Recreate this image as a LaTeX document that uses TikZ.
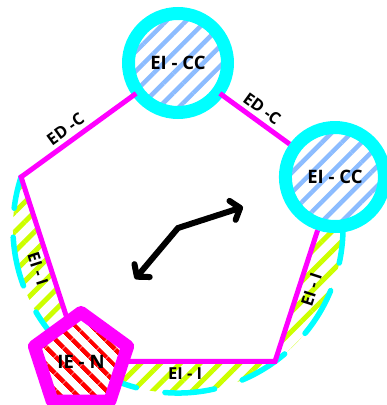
\documentclass[tikz,border=0pt]{standalone}
\usepackage{fontspec}
\setmainfont{Open Sans}
\usetikzlibrary{positioning,arrows.meta,shapes.geometric,patterns.meta}
\definecolor{ringcyan}{RGB}{0,255,255}
\definecolor{linkmagenta}{RGB}{255,0,255}
\definecolor{hatchblue}{RGB}{140,188,255}
\definecolor{hatchlime}{RGB}{204,255,0}
\tikzset{
    cluster/.style={
        circle,
        draw=ringcyan,
        line width=13pt,
        minimum size=99pt,
        inner sep=0pt,
        preaction={fill=white},
        pattern={Lines[angle=45,distance=14pt,line width=4.5pt]},
        pattern color=hatchblue,
        font=\bfseries\fontsize{18.5}{20}\selectfont
    },
    anchorpoly/.style={
        regular polygon,
        regular polygon sides=5,
        draw=linkmagenta,
        line width=13pt,
        line join=round,
        minimum size=98pt,
        inner sep=0pt,
        preaction={fill=white},
        pattern={Lines[angle=-45,distance=13pt,line width=5pt]},
        pattern color=red,
        font=\bfseries\fontsize{18.5}{20}\selectfont
    },
    link/.style={
        draw=linkmagenta,
        line width=5pt
    },
    tag/.style={
        sloped,
        inner sep=4pt,
        font=\bfseries\fontsize{16.5}{18}\selectfont
    },
    hullfill/.style={
        pattern={Lines[angle=45,distance=14pt,line width=5pt]},
        pattern color=hatchlime
    },
    hullline/.style={
        draw=ringcyan,
        line width=5.5pt,
        line cap=round,
        dash pattern=on 50pt off 29pt,
        dash phase=18pt
    },
    jump/.style={
        line width=6pt,
        {Straight Barb[length=8pt,width=20pt,round]}-{Straight Barb[length=8pt,width=20pt,round]}
    }
}

\begin{document}
\begin{tikzpicture}[x=1pt, y=1pt]
\useasboundingbox (-178,-177) rectangle (209,228);

% Corners of the ring
\coordinate (ctr) at (0,0);
\coordinate (topv) at (90:165);
\coordinate (lv) at (162:165);
\coordinate (blv) at (234:165);
\coordinate (brv) at (306:165);
\coordinate (rv) at (18:165);

% Hatched hull round the lower edges
\fill[hullfill] (lv) arc[start angle=162, end angle=378, radius=165]
    -- (brv) -- (blv) -- cycle;
\draw[hullline] (lv) arc[start angle=162, end angle=378, radius=165];

% Clusters
\node[cluster] (cc1) at (topv) {EI - CC};
\node[cluster] (cc2) at (rv) {EI - CC};
\node[anchorpoly] (ien) at (blv) {IE - N};

% Edges
\draw[link]
    (cc1) -- node[tag, above, pos=0.55] {ED -C}
    (lv) -- node[tag, below, pos=0.62] {EI - I}
    (ien) -- node[tag, below, pos=0.4] {EI - I}
    (brv) -- node[tag, below, pos=0.58] {EI - I}
    (cc2);
\draw[link] (cc2) -- node[tag, above, pos=0.5] {ED -C} (cc1);

% Swap arrow
\coordinate (jumpa) at (-43,-51);
\coordinate (jumpb) at (65,21);
\draw[jump] (jumpa) -- (ctr) -- (jumpb);

\end{tikzpicture}
\end{document}
